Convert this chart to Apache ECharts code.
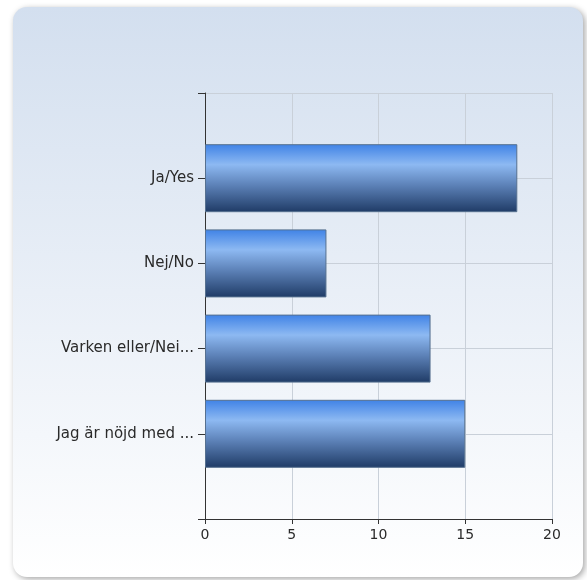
<!DOCTYPE html>
<html><head><meta charset="utf-8">
<script src="https://cdn.jsdelivr.net/npm/echarts@6/dist/echarts.min.js"></script>
<style>html,body{margin:0;padding:0;background:#fff}#c{width:587px;height:580px}</style>
</head><body><div id="c"></div>
<script>
var categories = ['', 'Ja/Yes', 'Nej/No', 'Varken eller/Nei...', 'Jag är nöjd med ...', ''];
var values = ['-', 18, 7, 13, 15, '-'];
var xTicks = [0, 5, 10, 15, 20];

var chart = echarts.init(document.getElementById('c'));
chart.setOption({
  animation: false,
  graphic: [{
    type: 'rect', left: 13, top: 7, z: -10,
    shape: {width: 570, height: 570, r: 14},
    style: {
      fill: new echarts.graphic.LinearGradient(0, 0, 0, 1, [
        {offset: 0, color: '#d3dfef'}, {offset: 1, color: '#ffffff'}]),
      shadowBlur: 6, shadowOffsetX: 2, shadowOffsetY: 2, shadowColor: 'rgba(0,0,0,0.35)'
    }
  }],
  grid: {left: 205, right: 35, top: 93, bottom: 61},
  xAxis: {
    type: 'value', min: xTicks[0], max: xTicks[xTicks.length - 1], interval: 5,
    axisLine: {show: true, lineStyle: {color: '#333', width: 1}},
    axisTick: {show: true, length: 5, lineStyle: {color: '#333'}},
    axisLabel: {color: '#2a2a2a', fontFamily: 'DejaVu Sans', fontSize: 14, margin: 9},
    splitLine: {show: true, lineStyle: {color: '#c9d0d9'}}
  },
  yAxis: {
    type: 'category', data: categories, inverse: true, boundaryGap: false,
    axisLine: {show: true, onZero: false, lineStyle: {color: '#333', width: 1}},
    axisTick: {show: true, length: 7, lineStyle: {color: '#333'}},
    axisLabel: {color: '#2a2a2a', fontFamily: 'DejaVu Sans', fontSize: 15, margin: 11, interval: 0},
    splitLine: {show: true, lineStyle: {color: '#c9d0d9'}}
  },
  series: [{
    type: 'bar', data: values, barWidth: 68,
    itemStyle: {
      borderColor: '#56708f', borderWidth: 1,
      color: new echarts.graphic.LinearGradient(0, 0, 0, 1, [
        {offset: 0, color: '#3f82e6'},
        {offset: 0.3, color: '#8db9f2'},
        {offset: 0.6, color: '#5d82b8'},
        {offset: 1, color: '#1f3b66'}])
    }
  }]
});
</script></body></html>
